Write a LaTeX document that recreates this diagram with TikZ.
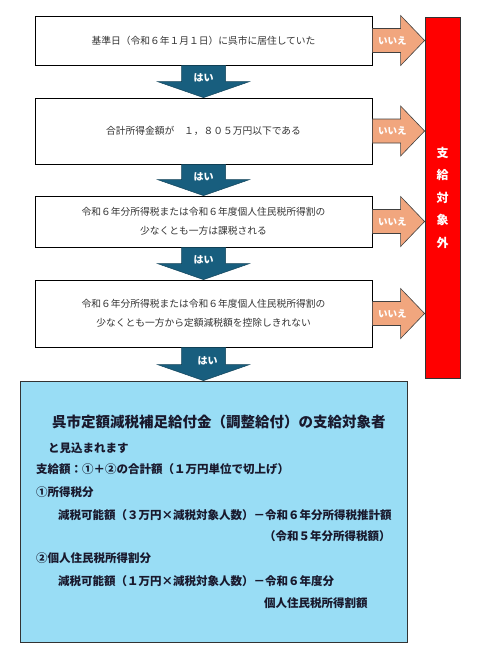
\documentclass[tikz,border=0pt]{standalone}
\usepackage{fontspec}
\setmainfont{Noto Sans CJK JP}
\usetikzlibrary{calc}
\definecolor{arrowblue}{RGB}{24,94,126}
\definecolor{noorange}{RGB}{241,166,126}
\definecolor{resultblue}{RGB}{153,221,245}
\definecolor{boxtext}{RGB}{51,51,51}
\definecolor{restext}{RGB}{25,25,45}
\newcommand\yesarrow[3]{%
  \fill[arrowblue, draw=arrowblue!70!black, line width=0.5pt]
    let \p1=(#1.south), \p2=(#2.north) in
    (\x1-22pt,\y1) -- (\x1-22pt,\y2+16pt) -- (\x1-46pt,\y2+16pt) -- (\x1,\y2)
    -- (\x1+46pt,\y2+16pt) -- (\x1+22pt,\y2+16pt) -- (\x1+22pt,\y1) -- cycle;
  \node[yeslbl] (#3) at ($(#1.south)!0.4!(#2.north)$) {はい};
}
\newcommand\noarrow[3]{%
  \fill[noorange, draw=black!75, line width=0.6pt]
    let \p1=(#1.east), \p2=(#2.west) in
    (\x1,\y1+12pt) -- (\x2-24pt,\y1+12pt) -- (\x2-24pt,\y1+25pt) -- (\x2,\y1)
    -- (\x2-24pt,\y1-25pt) -- (\x2-24pt,\y1-12pt) -- (\x1,\y1-12pt) -- cycle;
  \node[nolbl] (#3) at ($(#1.east)+(20,0)$) {いいえ};
}
\begin{document}
\begin{tikzpicture}[x=1pt,y=-1pt,
  qbox/.style={draw=black, line width=0.8pt, fill=white, minimum width=337pt,
    align=center, font=\fontsize{9.75}{19}\selectfont, text=boxtext, inner sep=0pt},
  yeslbl/.style={text=white, font=\fontsize{10}{12}\selectfont\bfseries, inner sep=0pt},
  nolbl/.style={text=white, font=\fontsize{9.5}{12}\selectfont\bfseries, inner sep=0pt},
  restxt/.style={anchor=west, inner sep=0pt, text=restext, font=\fontsize{11.5}{14}\selectfont\bfseries},
]
\useasboundingbox (0,0) rectangle (500,659);
\node[qbox, minimum height=49pt] (b1) at (203.5,40.5) {基準日（令和６年１月１日）に呉市に居住していた};
\node[qbox, minimum height=66pt] (b2) at (203.5,131) {合計所得金額が　１，８０５万円以下である};
\node[qbox, minimum height=51pt] (b3) at (203.5,221.5) {令和６年分所得税または令和６年度個人住民税所得割の\\少なくとも一方は課税される};
\node[qbox, minimum height=67pt] (b4) at (203.5,313.5) {令和６年分所得税または令和６年度個人住民税所得割の\\少なくとも一方から定額減税額を控除しきれない};
\node[draw=black!80, line width=0.8pt, fill=red, minimum width=35pt, minimum height=361pt,
  inner sep=0pt, align=center, text=white, font=\fontsize{12}{22.5}\selectfont\bfseries]
  (out) at (442.5,197.5) {支\\給\\対\\象\\外};
\node[draw=black!80, line width=0.8pt, fill=resultblue, minimum width=387pt, minimum height=261pt,
  inner sep=0pt] (res) at (213.5,511.5) {};
\yesarrow{b1}{b2}{y1}
\yesarrow{b2}{b3}{y2}
\yesarrow{b3}{b4}{y3}
\yesarrow{b4}{res}{y4}
\noarrow{b1}{out}{n1}
\noarrow{b2}{out}{n2}
\noarrow{b3}{out}{n3}
\noarrow{b4}{out}{n4}
\node[restxt, font=\fontsize{14.5}{16}\selectfont\bfseries] (t1) at (52,422) {呉市定額減税補足給付金（調整給付）の支給対象者};
\node[restxt] (t2) at (48,448) {と見込まれます};
\node[restxt] (t3) at (36,469) {支給額：①＋②の合計額（１万円単位で切上げ）};
\node[restxt] (t4) at (36,492) {①所得税分};
\node[restxt] (t5) at (58,515) {減税可能額（３万円×減税対象人数）－令和６年分所得税推計額};
\node[restxt] (t6) at (264,536) {（令和５年分所得税額）};
\node[restxt] (t7) at (36,558) {②個人住民税所得割分};
\node[restxt] (t8) at (58,581) {減税可能額（１万円×減税対象人数）－令和６年度分};
\node[restxt] (t9) at (264,603) {個人住民税所得割額};
\end{tikzpicture}
\end{document}
